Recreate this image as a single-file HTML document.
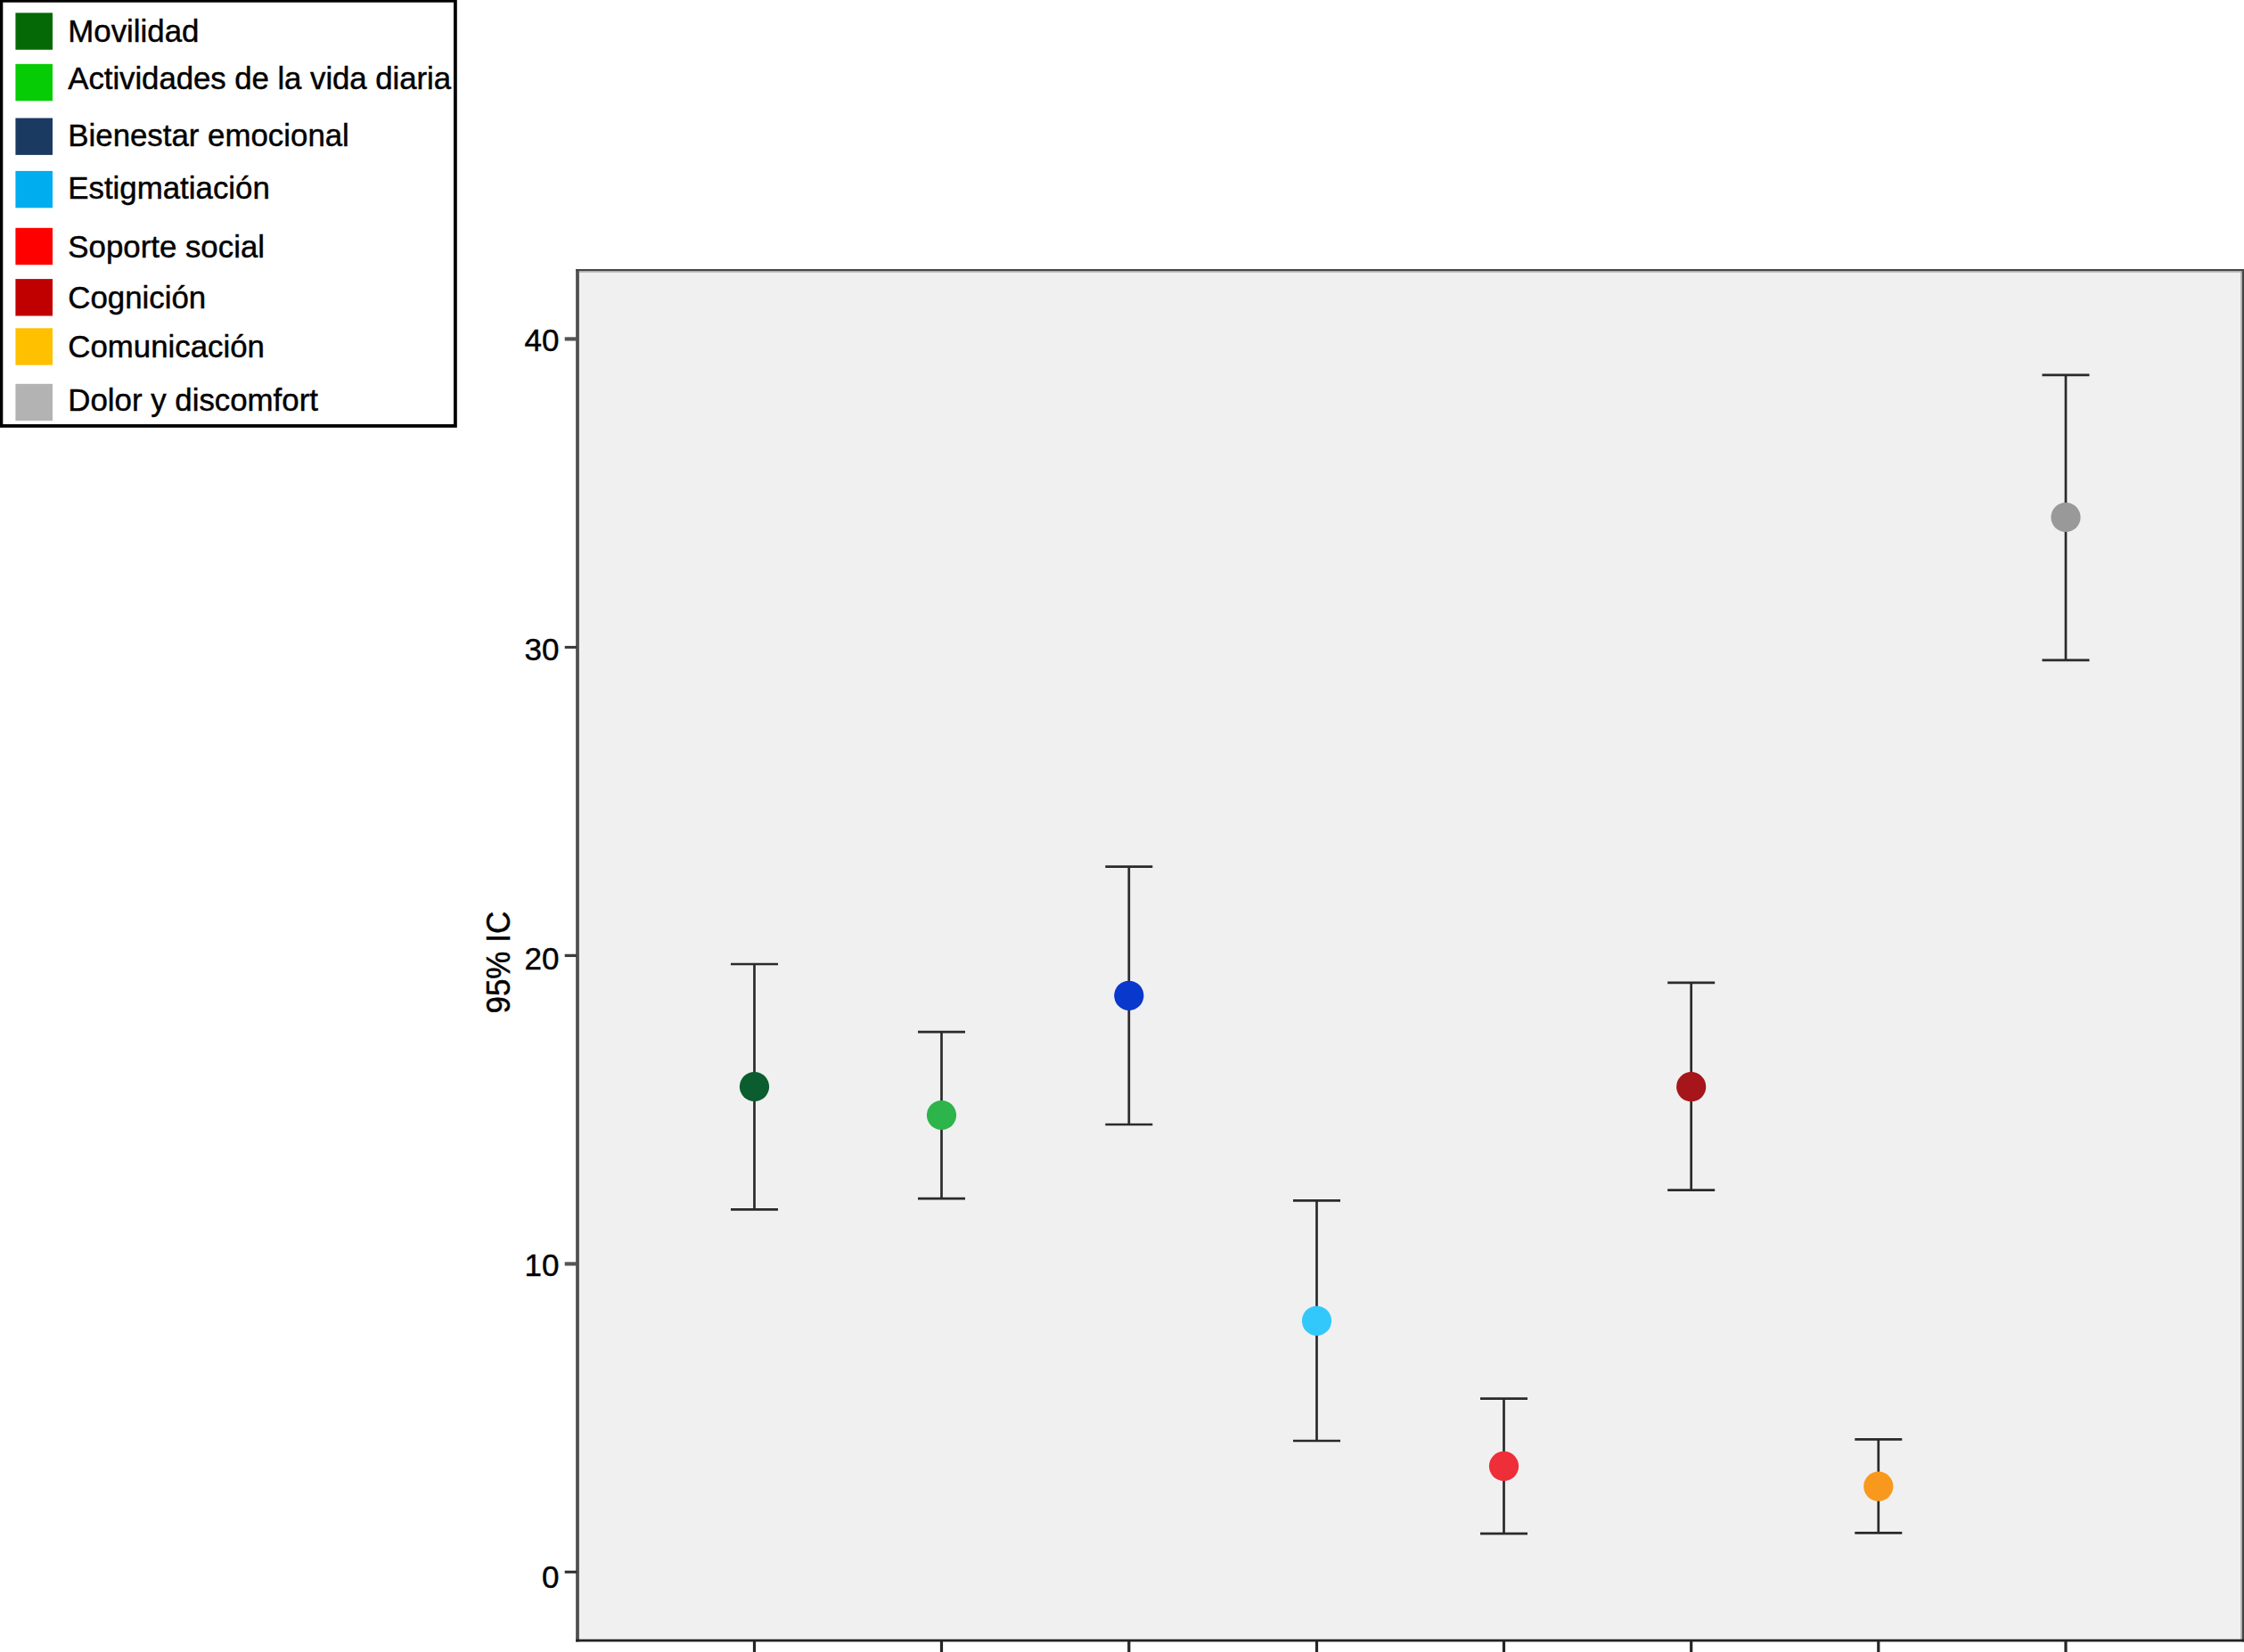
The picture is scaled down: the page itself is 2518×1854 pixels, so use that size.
<!DOCTYPE html>
<html lang="es"><head><meta charset="utf-8"><title>95% IC</title>
<style>html,body{margin:0;padding:0;background:#fff}body{width:2518px;height:1854px;overflow:hidden}svg{display:block}text{font-family:"Liberation Sans",Arial,Helvetica,sans-serif;fill:#000;stroke:#000;stroke-width:0.45px}</style></head><body>
<svg width="2518" height="1854" viewBox="0 0 2518 1854">
<rect x="0" y="0" width="2518" height="1854" fill="#fff"/>
<rect x="648" y="303.5" width="1870" height="1538" fill="#f0f0f0"/>
<rect x="646.1" y="302" width="3.8" height="1540.5" fill="#505050"/>
<rect x="646.1" y="302" width="1872" height="2.1" fill="#454545"/>
<rect x="649.9" y="304.1" width="1866" height="1.6" fill="#aaaaaa"/>
<rect x="2515.7" y="302" width="2.3" height="1540.5" fill="#454545"/>
<rect x="2514.2" y="304.1" width="1.5" height="1536" fill="#aaaaaa"/>
<rect x="646.1" y="1839.7" width="1872" height="2.8" fill="#222222"/>
<rect x="633.7" y="378.30" width="13.5" height="4.2" fill="#555"/>
<text transform="translate(627.4,394.0) scale(1,1)" font-size="35.0" text-anchor="end">40</text>
<rect x="633.7" y="724.90" width="13.5" height="3.0" fill="#383838"/>
<text transform="translate(627.4,741.3) scale(1,1)" font-size="35.0" text-anchor="end">30</text>
<rect x="633.7" y="1070.75" width="13.5" height="3.3" fill="#3c3c3c"/>
<text transform="translate(627.4,1088.2) scale(1,1)" font-size="35.0" text-anchor="end">20</text>
<rect x="633.7" y="1416.30" width="13.5" height="4.2" fill="#555"/>
<text transform="translate(627.4,1431.8) scale(1,1)" font-size="35.0" text-anchor="end">10</text>
<rect x="633.7" y="1762.70" width="13.5" height="3.0" fill="#2c2c2c"/>
<text transform="translate(627.4,1781.7) scale(1,1)" font-size="35.0" text-anchor="end">0</text>
<rect x="844.9" y="1842" width="3.2" height="12" fill="#262626"/>
<rect x="1054.9" y="1842" width="3.2" height="12" fill="#262626"/>
<rect x="1265.2" y="1842" width="3.2" height="12" fill="#262626"/>
<rect x="1475.9" y="1842" width="3.2" height="12" fill="#262626"/>
<rect x="1685.9" y="1842" width="3.2" height="12" fill="#262626"/>
<rect x="1896.1" y="1842" width="3.2" height="12" fill="#262626"/>
<rect x="2106.2" y="1842" width="3.2" height="12" fill="#262626"/>
<rect x="2316.4" y="1842" width="3.2" height="12" fill="#262626"/>
<text transform="translate(572.2,1080.2) rotate(-90) scale(1,1.045)" font-size="35" text-anchor="middle">95% IC</text>
<g stroke="#2a2a2a" stroke-width="2.7"><line x1="846.5" y1="1082.0" x2="846.5" y2="1357.4"/><line x1="820.0" y1="1082.0" x2="873.0" y2="1082.0"/><line x1="820.0" y1="1357.4" x2="873.0" y2="1357.4"/></g>
<circle cx="846.5" cy="1219.5" r="16.6" fill="#0b5c2e"/>
<g stroke="#2a2a2a" stroke-width="2.7"><line x1="1056.5" y1="1158.1" x2="1056.5" y2="1345.2"/><line x1="1030.0" y1="1158.1" x2="1083.0" y2="1158.1"/><line x1="1030.0" y1="1345.2" x2="1083.0" y2="1345.2"/></g>
<circle cx="1056.5" cy="1251.5" r="16.6" fill="#2db44b"/>
<g stroke="#2a2a2a" stroke-width="2.7"><line x1="1266.8" y1="972.7" x2="1266.8" y2="1262.0"/><line x1="1240.3" y1="972.7" x2="1293.3" y2="972.7"/><line x1="1240.3" y1="1262.0" x2="1293.3" y2="1262.0"/></g>
<circle cx="1266.8" cy="1117.3" r="16.6" fill="#0838cc"/>
<g stroke="#2a2a2a" stroke-width="2.7"><line x1="1477.5" y1="1347.3" x2="1477.5" y2="1617.0"/><line x1="1451.0" y1="1347.3" x2="1504.0" y2="1347.3"/><line x1="1451.0" y1="1617.0" x2="1504.0" y2="1617.0"/></g>
<circle cx="1477.5" cy="1482.3" r="16.6" fill="#33c8fb"/>
<g stroke="#2a2a2a" stroke-width="2.7"><line x1="1687.5" y1="1569.7" x2="1687.5" y2="1721.2"/><line x1="1661.0" y1="1569.7" x2="1714.0" y2="1569.7"/><line x1="1661.0" y1="1721.2" x2="1714.0" y2="1721.2"/></g>
<circle cx="1687.5" cy="1645.4" r="16.6" fill="#ee2e38"/>
<g stroke="#2a2a2a" stroke-width="2.7"><line x1="1897.7" y1="1102.8" x2="1897.7" y2="1335.7"/><line x1="1871.2" y1="1102.8" x2="1924.2" y2="1102.8"/><line x1="1871.2" y1="1335.7" x2="1924.2" y2="1335.7"/></g>
<circle cx="1897.7" cy="1219.7" r="16.6" fill="#a5151a"/>
<g stroke="#2a2a2a" stroke-width="2.7"><line x1="2107.8" y1="1615.3" x2="2107.8" y2="1720.3"/><line x1="2081.3" y1="1615.3" x2="2134.3" y2="1615.3"/><line x1="2081.3" y1="1720.3" x2="2134.3" y2="1720.3"/></g>
<circle cx="2107.8" cy="1668.2" r="16.6" fill="#f8991d"/>
<g stroke="#2a2a2a" stroke-width="2.7"><line x1="2318.0" y1="420.9" x2="2318.0" y2="740.8"/><line x1="2291.5" y1="420.9" x2="2344.5" y2="420.9"/><line x1="2291.5" y1="740.8" x2="2344.5" y2="740.8"/></g>
<circle cx="2318.0" cy="580.5" r="16.6" fill="#999999"/>
<rect x="1.4" y="0.8" width="509.5" height="477.2" fill="#fff" stroke="#000" stroke-width="3.8"/>
<rect x="17.4" y="14.4" width="41.6" height="41.4" fill="#056a05"/>
<text x="76.3" y="46.8" font-size="34.85">Movilidad</text>
<rect x="17.4" y="71.8" width="41.6" height="41.4" fill="#06cc06"/>
<text x="76.3" y="100.3" font-size="34.85" textLength="429.8" lengthAdjust="spacing">Actividades de la vida diaria</text>
<rect x="17.4" y="132.5" width="41.6" height="41.4" fill="#1b3a62"/>
<text x="76.3" y="163.9" font-size="34.85">Bienestar emocional</text>
<rect x="17.4" y="191.9" width="41.6" height="41.4" fill="#00adef"/>
<text x="76.3" y="223.2" font-size="34.85">Estigmatiación</text>
<rect x="17.4" y="255.8" width="41.6" height="41.4" fill="#ff0000"/>
<text x="76.3" y="289.3" font-size="34.85">Soporte social</text>
<rect x="17.4" y="313.1" width="41.6" height="41.4" fill="#c00000"/>
<text x="76.3" y="345.9" font-size="34.85">Cognición</text>
<rect x="17.4" y="368.3" width="41.6" height="41.4" fill="#ffc000"/>
<text x="76.3" y="400.8" font-size="34.85">Comunicación</text>
<rect x="17.4" y="430.8" width="41.6" height="41.4" fill="#b3b3b3"/>
<text x="76.3" y="461.0" font-size="34.85">Dolor y discomfort</text>
</svg></body></html>
